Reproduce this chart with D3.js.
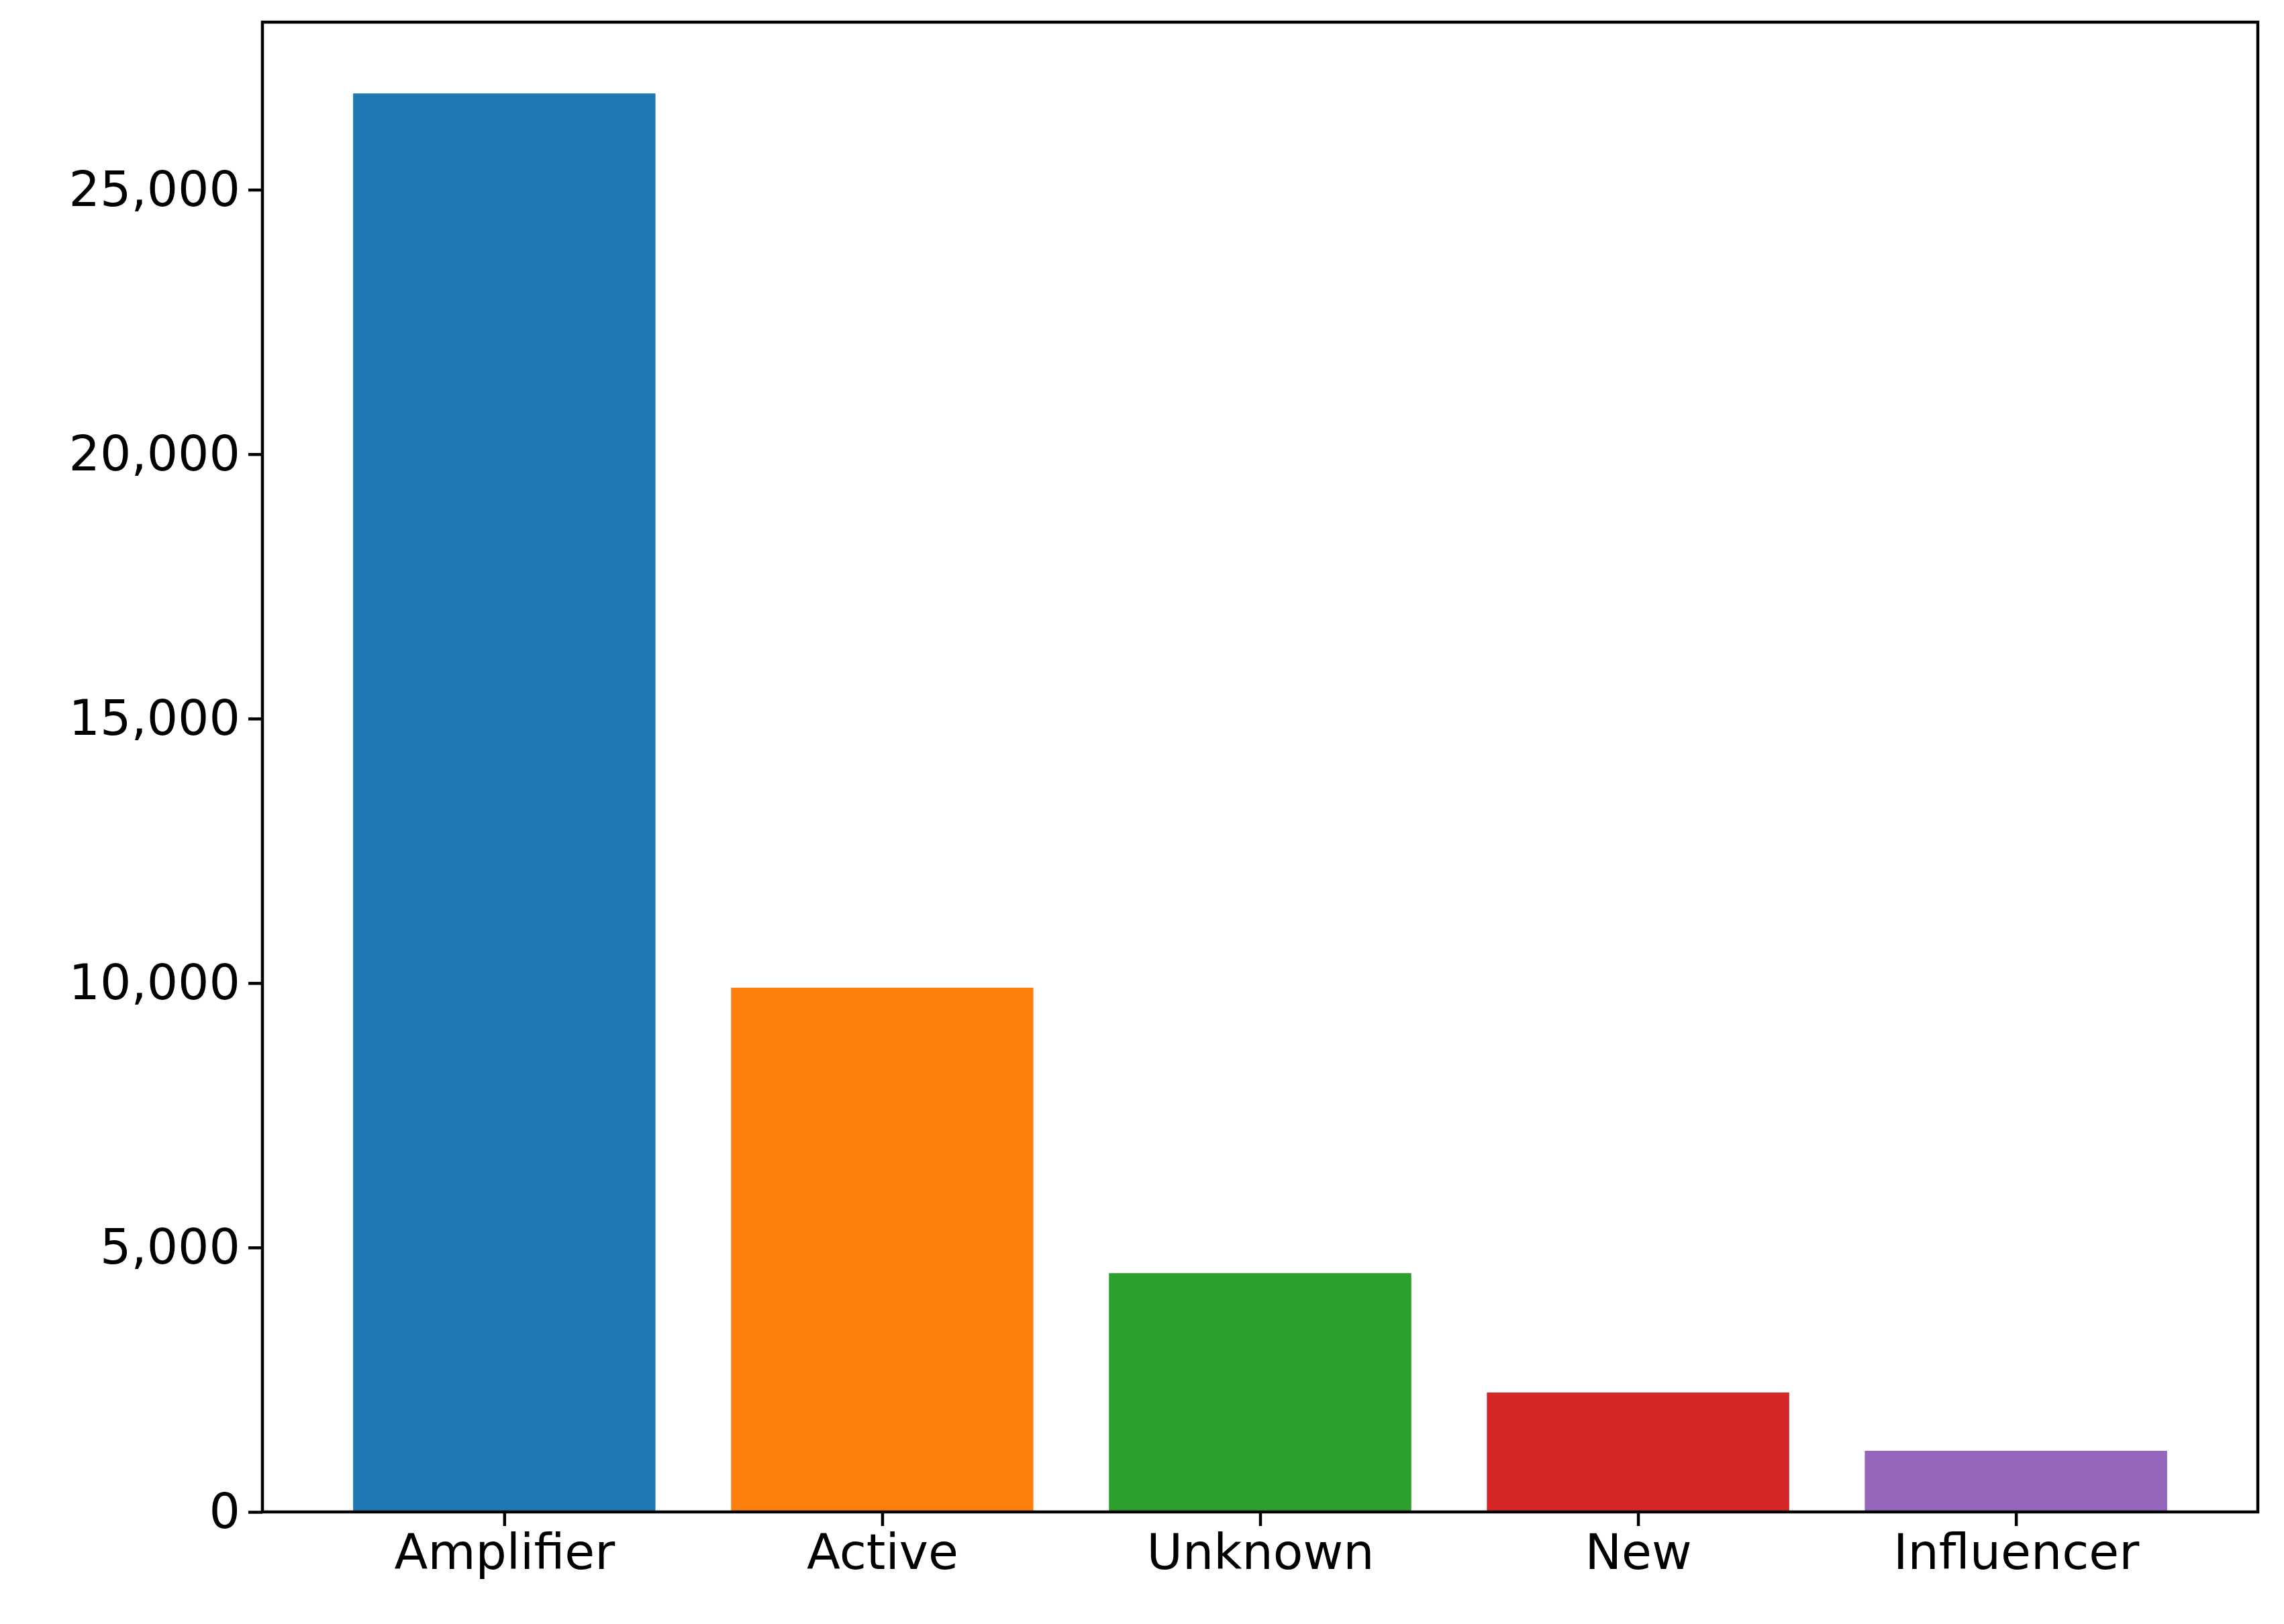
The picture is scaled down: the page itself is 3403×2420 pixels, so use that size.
<!DOCTYPE html>
<html><head><meta charset="utf-8">
<script src="https://cdn.jsdelivr.net/npm/d3@7"></script>
<style>body{margin:0;background:#fff}</style>
</head><body>
<script>
categories = ["Amplifier", "Active", "Unknown", "New", "Influencer"];
counts = [26820, 9912, 4515, 2258, 1156];
colors = ["#1f77b4", "#ff7f0e", "#2ca02c", "#d62728", "#9467bd"];
yTicks = [0, 5000, 10000, 15000, 20000, 25000];

var W = 3403, H = 2420;
var m = { left: 391, right: 3364, top: 33, bottom: 2253 };

var svg = d3.select("body").append("svg").attr("width", W).attr("height", H);

var x = d3.scaleLinear().domain([-0.64, 4.64]).range([m.left, m.right]);
var y = d3.scaleLinear().domain([0, 28168]).range([m.bottom, m.top]);

svg.selectAll("rect.bar").data(counts).enter().append("rect")
  .attr("class", "bar")
  .attr("x", function (d, i) { return x(i - 0.4); })
  .attr("width", x(0.4) - x(-0.4))
  .attr("y", function (d) { return y(d); })
  .attr("height", function (d) { return y(0) - y(d); })
  .attr("fill", function (d, i) { return colors[i]; });

var fmt = d3.format(",");
var yAxis = svg.append("g").attr("transform", "translate(" + m.left + ",0)")
  .call(d3.axisLeft(y).tickValues(yTicks).tickFormat(fmt).tickSizeInner(21).tickSizeOuter(0).tickPadding(12));
var xAxis = svg.append("g").attr("transform", "translate(0," + m.bottom + ")")
  .call(d3.axisBottom(x).tickValues(d3.range(categories.length))
    .tickFormat(function (i) { return categories[i]; }).tickSizeInner(21).tickSizeOuter(0).tickPadding(12));

[xAxis, yAxis].forEach(function (a) {
  a.select(".domain").remove();
  a.selectAll("line").attr("stroke", "#000").attr("stroke-width", 4.5);
  a.selectAll("text").attr("font-family", "DejaVu Sans").attr("font-size", 73).attr("fill", "#000");
});

svg.append("rect").attr("x", m.left).attr("y", m.top)
  .attr("width", m.right - m.left).attr("height", m.bottom - m.top)
  .attr("fill", "none").attr("stroke", "#000").attr("stroke-width", 4.5);
</script>
</body></html>
